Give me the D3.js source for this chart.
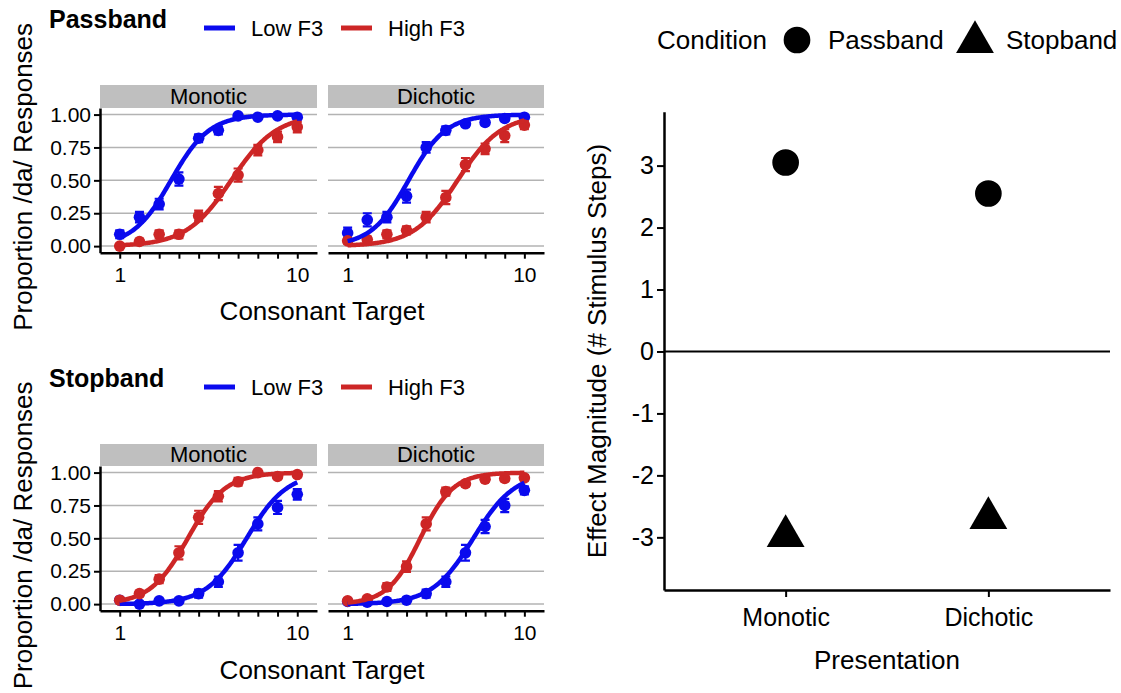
<!DOCTYPE html>
<html>
<head>
<meta charset="utf-8">
<script src="https://cdn.jsdelivr.net/npm/d3@7"></script>
<style>
  body { margin: 0; background: #fff; }
  text { font-family: "Liberation Sans", Arial, sans-serif; fill: #000; }
</style>
</head>
<body>
<div id="chart"></div>
<script>
// ---- data ----
var steps = [1, 2, 3, 4, 5, 6, 7, 8, 9, 10],
    presentations = ["Monotic", "Dichotic"],
    f3Levels = ["Low F3", "High F3"],
    yTicks = [0, 0.25, 0.5, 0.75, 1];

// proportion /da/ responses, per step
var passMonoLow   = [0.09, 0.22, 0.32, 0.51, 0.82, 0.88, 0.99, 0.98, 0.99, 0.98],
    passMonoHigh  = [0.00, 0.035, 0.09, 0.09, 0.23, 0.40, 0.54, 0.73, 0.83, 0.905],
    passDichLow   = [0.10, 0.20, 0.22, 0.38, 0.75, 0.88, 0.93, 0.94, 0.97, 0.98],
    passDichHigh  = [0.04, 0.05, 0.09, 0.12, 0.22, 0.37, 0.62, 0.74, 0.84, 0.92],
    stopMonoLow   = [0.03, 0.00, 0.025, 0.025, 0.08, 0.17, 0.39, 0.61, 0.735, 0.835],
    stopMonoHigh  = [0.03, 0.08, 0.19, 0.39, 0.66, 0.82, 0.93, 1.00, 0.97, 0.985],
    stopDichLow   = [0.02, 0.015, 0.02, 0.03, 0.08, 0.17, 0.39, 0.59, 0.75, 0.865],
    stopDichHigh  = [0.025, 0.04, 0.13, 0.285, 0.61, 0.855, 0.915, 0.95, 0.955, 0.96];

// standard errors
var passMonoLowSE  = [0.03, 0.04, 0.04, 0.05, 0.03, 0.03, 0.01, 0.015, 0.01, 0.015],
    passMonoHighSE = [0.01, 0.02, 0.03, 0.03, 0.04, 0.05, 0.05, 0.04, 0.04, 0.04],
    passDichLowSE  = [0.04, 0.05, 0.04, 0.05, 0.04, 0.03, 0.02, 0.02, 0.015, 0.01],
    passDichHighSE = [0.02, 0.02, 0.03, 0.03, 0.04, 0.05, 0.05, 0.04, 0.05, 0.03],
    stopMonoLowSE  = [0.015, 0.01, 0.015, 0.015, 0.03, 0.04, 0.06, 0.05, 0.05, 0.04],
    stopMonoHighSE = [0.02, 0.02, 0.03, 0.05, 0.05, 0.04, 0.03, 0.01, 0.015, 0.01],
    stopDichLowSE  = [0.01, 0.01, 0.01, 0.015, 0.03, 0.04, 0.06, 0.05, 0.05, 0.03],
    stopDichHighSE = [0.015, 0.02, 0.03, 0.04, 0.05, 0.03, 0.02, 0.02, 0.02, 0.02];

// logistic fits: [midpoint step, slope]
var passMonoLowFit  = [3.6, 1.03],  passMonoHighFit = [6.65, 0.87],
    passDichLowFit  = [4.1, 1.05],  passDichHighFit = [6.6, 0.9],
    stopMonoLowFit  = [7.43, 0.98], stopMonoHighFit = [4.45, 1.05],
    stopDichLowFit  = [7.4, 0.95],  stopDichHighFit = [4.7, 1.2];

// effect magnitude (# stimulus steps)
var effectPassband = [3.05, 2.55],
    effectStopband = [-2.98, -2.69],
    effectTicks = [-3, -2, -1, 0, 1, 2, 3];

var colors = {"Low F3": "#0a0aee", "High F3": "#cd2626"};

var W = 1121, H = 693;
var svg = d3.select("#chart").append("svg")
  .attr("width", W).attr("height", H)
  .style("background", "#fff");

var rows = [
  {title: "Passband", titleY: 28, stripTop: 85, stripBot: 108, panelBot: 252.7, xTitleY: 320,
   sets: [[passMonoLow, passMonoHigh, passMonoLowSE, passMonoHighSE, passMonoLowFit, passMonoHighFit],
          [passDichLow, passDichHigh, passDichLowSE, passDichHighSE, passDichLowFit, passDichHighFit]]},
  {title: "Stopband", titleY: 387, stripTop: 444, stripBot: 466, panelBot: 610.7, xTitleY: 679,
   sets: [[stopMonoLow, stopMonoHigh, stopMonoLowSE, stopMonoHighSE, stopMonoLowFit, stopMonoHighFit],
          [stopDichLow, stopDichHigh, stopDichLowSE, stopDichHighSE, stopDichLowFit, stopDichHighFit]]}
];
var panelX = [[100, 317], [328, 544]];

var logistic = function(x, p) { return 1 / (1 + Math.exp(-p[1] * (x - p[0]))); };
var fine = d3.range(1, 10.001, 0.05);

rows.forEach(function(row) {
  var y = d3.scaleLinear().domain([-0.05, 1.05]).range([row.panelBot, row.stripBot]);

  // row title + legend
  svg.append("text").attr("x", 49).attr("y", row.titleY)
    .style("font-size", "25px").style("font-weight", "bold").text(row.title);
  var legX = [204, 341];
  f3Levels.forEach(function(lv, i) {
    svg.append("line").attr("x1", legX[i]).attr("x2", legX[i] + 31)
      .attr("y1", row.titleY).attr("y2", row.titleY)
      .attr("stroke", colors[lv]).attr("stroke-width", 5);
    svg.append("text").attr("x", legX[i] + 47).attr("y", row.titleY + 8)
      .style("font-size", "22px").text(lv);
  });

  row.sets.forEach(function(set, pi) {
    var x = d3.scaleLinear().domain([0, 11]).range(panelX[pi]);
    var g = svg.append("g");

    g.append("rect").attr("x", panelX[pi][0]).attr("y", row.stripTop)
      .attr("width", panelX[pi][1] - panelX[pi][0]).attr("height", row.stripBot - row.stripTop)
      .attr("fill", "#bfbfbf");
    g.append("text").attr("x", (panelX[pi][0] + panelX[pi][1]) / 2).attr("y", row.stripBot - 4)
      .attr("text-anchor", "middle").style("font-size", "22px").text(presentations[pi]);

    g.selectAll(".grid").data(yTicks).enter().append("line")
      .attr("x1", panelX[pi][0]).attr("x2", panelX[pi][1])
      .attr("y1", function(d) { return y(d); }).attr("y2", function(d) { return y(d); })
      .attr("stroke", "#b3b3b3").attr("stroke-width", 1.5);

    [0, 1].forEach(function(k) {
      var vals = set[k], se = set[k + 2], col = colors[f3Levels[k]];
      var pts = steps.map(function(s, i) { return {s: s, v: vals[i], e: se[i]}; });
      g.selectAll(null).data(pts).enter().append("circle")
        .attr("cx", function(d) { return x(d.s); }).attr("cy", function(d) { return y(d.v); })
        .attr("r", 5.8).attr("fill", col);
      g.selectAll(null).data(pts).enter().append("path")
        .attr("d", function(d) {
          var cx = x(d.s), t = y(d.v + d.e), b = y(d.v - d.e);
          return "M" + (cx - 4.5) + "," + t + "H" + (cx + 4.5) + "M" + cx + "," + t + "V" + b +
                 "M" + (cx - 4.5) + "," + b + "H" + (cx + 4.5);
        })
        .attr("stroke", col).attr("stroke-width", 2.2).attr("fill", "none");
    });
    [0, 1].forEach(function(k) {
      var fit = set[k + 4];
      g.append("path").datum(fine)
        .attr("d", d3.line().x(function(d) { return x(d); }).y(function(d) { return y(logistic(d, fit)); }))
        .attr("fill", "none").attr("stroke", colors[f3Levels[k]]).attr("stroke-width", 4.5);
    });

    var xa = g.append("g").attr("transform", "translate(0," + row.panelBot + ")")
      .call(d3.axisBottom(x).tickValues(steps).tickSize(6).tickSizeOuter(0)
        .tickFormat(function(d) { return (d === 1 || d === 10) ? d : ""; }));
    xa.select(".domain").attr("stroke-width", 2.5);
    xa.selectAll(".tick line").attr("stroke-width", 2);
    xa.selectAll(".tick text").style("font-size", "21px").attr("dy", "0.95em").attr("fill", "#000");

    if (pi === 0) {
      var ya = g.append("g").attr("transform", "translate(" + panelX[0][0] + ",0)")
        .call(d3.axisLeft(y).tickValues(yTicks).tickSize(6).tickSizeOuter(0).tickFormat(d3.format(".2f")));
      ya.select(".domain").attr("stroke-width", 2.5);
      ya.selectAll(".tick line").attr("stroke-width", 2);
      ya.selectAll(".tick text").style("font-size", "21px").attr("fill", "#000");
    }
  });

  svg.append("text").attr("x", 322).attr("y", row.xTitleY).attr("text-anchor", "middle")
    .style("font-size", "26px").text("Consonant Target");
  var cy = (row.stripTop + row.panelBot) / 2 + 8;
  svg.append("text").attr("transform", "translate(32," + cy + ") rotate(-90)")
    .attr("text-anchor", "middle").style("font-size", "26px").text("Proportion /da/ Responses");
});

// ---- right panel: effect magnitude ----
var rx = d3.scalePoint().domain(presentations).range([664, 1110]).padding(0.6);
var ry = d3.scaleLinear().domain([-3.85, 3.87]).range([590, 111.7]);
var rg = svg.append("g");

rg.append("line").attr("x1", 664).attr("x2", 1110).attr("y1", ry(0)).attr("y2", ry(0))
  .attr("stroke", "#000").attr("stroke-width", 2);

var rxa = rg.append("g").attr("transform", "translate(0,590)")
  .call(d3.axisBottom(rx).tickSize(7).tickSizeOuter(0));
rxa.select(".domain").attr("stroke-width", 2.5);
rxa.selectAll(".tick line").attr("stroke-width", 2);
rxa.selectAll(".tick text").style("font-size", "25px").attr("dy", "1.05em").attr("fill", "#000");

var rya = rg.append("g").attr("transform", "translate(664,0)")
  .call(d3.axisLeft(ry).tickValues(effectTicks).tickSize(7).tickSizeOuter(0)
    .tickFormat(function(d) { return String(d); }));
rya.select(".domain").attr("stroke-width", 2.5);
rya.selectAll(".tick line").attr("stroke-width", 2);
rya.selectAll(".tick text").style("font-size", "25px").attr("fill", "#000");

var circ = d3.symbol().type(d3.symbolCircle).size(560),
    tri = d3.symbol().type(d3.symbolTriangle).size(620);
rg.selectAll(null).data(effectPassband).enter().append("path")
  .attr("d", circ)
  .attr("transform", function(d, i) { return "translate(" + rx(presentations[i]) + "," + ry(d) + ")"; });
rg.selectAll(null).data(effectStopband).enter().append("path")
  .attr("d", tri)
  .attr("transform", function(d, i) { return "translate(" + rx(presentations[i]) + "," + ry(d) + ")"; });

svg.append("text").attr("x", 887).attr("y", 669).attr("text-anchor", "middle")
  .style("font-size", "26px").text("Presentation");
svg.append("text").attr("transform", "translate(606,351) rotate(-90)")
  .attr("text-anchor", "middle").style("font-size", "26px").text("Effect Magnitude (# Stimulus Steps)");

// legend
var lg = svg.append("g");
lg.append("text").attr("x", 657).attr("y", 49).style("font-size", "26px").text("Condition");
lg.append("path").attr("d", circ).attr("transform", "translate(797,40)");
lg.append("text").attr("x", 828).attr("y", 49).style("font-size", "26px").text("Passband");
lg.append("path").attr("d", tri).attr("transform", "translate(975,42)");
lg.append("text").attr("x", 1006).attr("y", 49).style("font-size", "26px").text("Stopband");
</script>
</body>
</html>
